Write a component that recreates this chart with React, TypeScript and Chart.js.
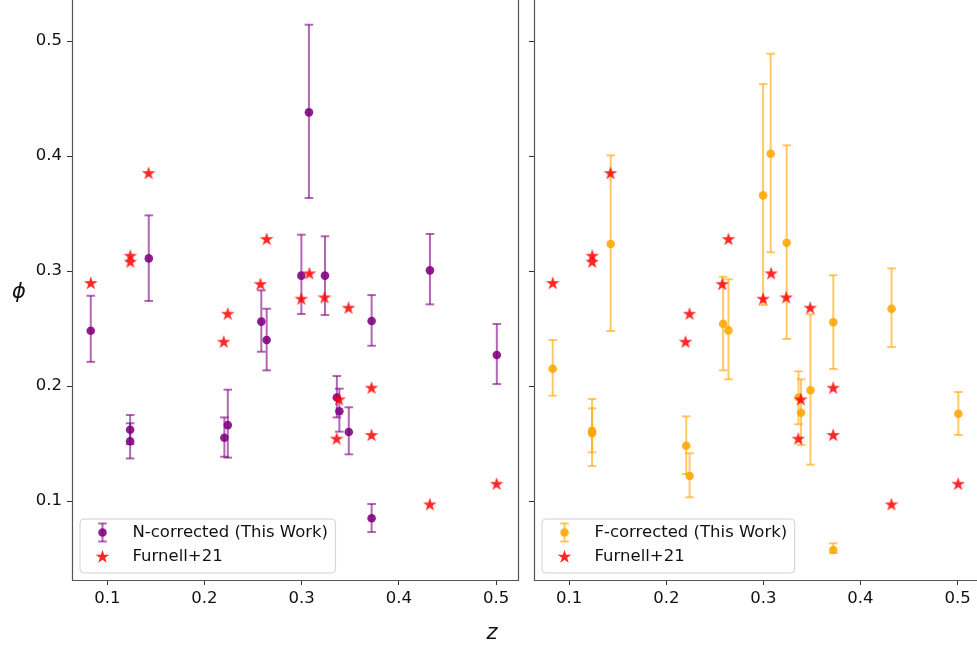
import React, { useEffect, useRef } from "react";
import { Chart, registerables } from "chart.js";

Chart.register(...registerables);

// ---------------- data ----------------
const Z = [0.083, 0.1235, 0.1235, 0.1427, 0.2205, 0.224, 0.2585, 0.264, 0.2997, 0.3075, 0.324, 0.3362, 0.3388, 0.3485, 0.372, 0.372, 0.432, 0.5008];

const N_PHI = [0.248, 0.162, 0.152, 0.311, 0.155, 0.166, 0.256, 0.24, 0.296, 0.438, 0.296, 0.19, 0.178, 0.16, 0.2565, 0.085, 0.3006, 0.227];
const N_LO = [0.221, 0.1495, 0.137, 0.274, 0.1385, 0.1377, 0.2298, 0.2136, 0.2626, 0.3635, 0.2617, 0.1727, 0.1603, 0.1406, 0.235, 0.073, 0.271, 0.2017];
const N_HI = [0.2785, 0.1748, 0.1676, 0.3484, 0.1727, 0.1968, 0.2832, 0.2672, 0.3316, 0.5142, 0.3302, 0.2087, 0.1977, 0.1815, 0.2791, 0.0974, 0.3322, 0.2539];

const F_PHI = [0.215, 0.161, 0.159, 0.3235, 0.148, 0.1217, 0.2542, 0.2484, 0.3658, 0.402, 0.3246, 0.19, 0.1768, 0.1963, 0.2554, 0.0574, 0.2672, 0.1759];
const F_LO = [0.1916, 0.1304, 0.1423, 0.2478, 0.1235, 0.1032, 0.2136, 0.2058, 0.2704, 0.3163, 0.2409, 0.1667, 0.1487, 0.1316, 0.2148, 0.0548, 0.2339, 0.1574];
const F_HI = [0.24, 0.1887, 0.1806, 0.4006, 0.1736, 0.1415, 0.295, 0.2928, 0.4626, 0.489, 0.4093, 0.2128, 0.2058, 0.2623, 0.2963, 0.0632, 0.3023, 0.1948];

const FURNELL_Z = [0.083, 0.1237, 0.1237, 0.1425, 0.2198, 0.2239, 0.2576, 0.264, 0.2997, 0.308, 0.3235, 0.336, 0.3385, 0.3482, 0.3719, 0.3719, 0.4319, 0.5006];
const FURNELL_PHI = [0.2896, 0.3133, 0.3081, 0.3852, 0.2385, 0.2629, 0.2887, 0.3278, 0.2759, 0.298, 0.2771, 0.1542, 0.1884, 0.2681, 0.1985, 0.1574, 0.0971, 0.115];

const X_TICKS = [0.1, 0.2, 0.3, 0.4, 0.5];
const Y_TICKS = [0.1, 0.2, 0.3, 0.4, 0.5];

const LABEL_N = "N-corrected (This Work)";
const LABEL_F = "F-corrected (This Work)";
const LABEL_FURNELL = "Furnell+21";

// ---------------- styling ----------------
const X_MIN = 0.0637;
const X_MAX = 0.5226;
const Y_MIN = 0.0313;
const Y_MAX = 0.5357;
const FONT = "'DejaVu Sans', 'Liberation Sans', sans-serif";
const FONT_SIZE = 16.5;
const STAR_COLOR = "rgba(255,0,0,0.85)";

function starPath(ctx: CanvasRenderingContext2D, cx: number, cy: number, r: number) {
  const ri = r * 0.381966;
  ctx.beginPath();
  for (let k = 0; k < 10; k++) {
    const rr = k % 2 === 0 ? r : ri;
    const a = -Math.PI / 2 + (k * Math.PI) / 5;
    const px = cx + rr * Math.cos(a);
    const py = cy + rr * Math.sin(a);
    if (k === 0) ctx.moveTo(px, py);
    else ctx.lineTo(px, py);
  }
  ctx.closePath();
}

function makeStar(): HTMLCanvasElement {
  const c = document.createElement("canvas");
  c.width = 16;
  c.height = 16;
  const ctx = c.getContext("2d")!;
  starPath(ctx, 8, 8.4, 7.2);
  ctx.fillStyle = STAR_COLOR;
  ctx.fill();
  return c;
}

const errorBarPlugin = {
  id: "errbars",
  beforeDatasetsDraw(chart: any) {
    const { ctx } = chart;
    const xs = chart.scales.x;
    const ys = chart.scales.y;
    chart.data.datasets.forEach((ds: any) => {
      if (!ds.errLo) return;
      ctx.save();
      ctx.strokeStyle = ds.errColor;
      ctx.lineWidth = 2;
      ds.data.forEach((p: any, i: number) => {
        const px = xs.getPixelForValue(p.x);
        const yl = ys.getPixelForValue(ds.errLo[i]);
        const yh = ys.getPixelForValue(ds.errHi[i]);
        ctx.beginPath();
        ctx.moveTo(px, yl);
        ctx.lineTo(px, yh);
        ctx.stroke();
        ctx.beginPath();
        ctx.moveTo(px - 4.3, yl);
        ctx.lineTo(px + 4.3, yl);
        ctx.stroke();
        ctx.beginPath();
        ctx.moveTo(px - 4.3, yh);
        ctx.lineTo(px + 4.3, yh);
        ctx.stroke();
      });
      ctx.restore();
    });
  },
};

const spinePlugin = {
  id: "spines",
  afterDraw(chart: any) {
    const { ctx, chartArea } = chart;
    const l = Math.round(chartArea.left) + 0.5;
    const r = Math.round(chartArea.right) + 0.5;
    const b = Math.round(chartArea.bottom) + 0.5;
    const t = chartArea.top - 40;
    ctx.save();
    ctx.strokeStyle = "#555";
    ctx.lineWidth = 1.2;
    ctx.beginPath();
    ctx.moveTo(l, t);
    ctx.lineTo(l, b);
    ctx.lineTo(r, b);
    ctx.lineTo(r, t);
    ctx.stroke();
    ctx.restore();
  },
};

const legendPlugin = {
  id: "mplLegend",
  afterDraw(chart: any) {
    const opts = chart.options.plugins.mplLegend;
    if (!opts) return;
    const { ctx, chartArea } = chart;
    ctx.save();
    ctx.font = `${FONT_SIZE}px ${FONT}`;
    const w1 = ctx.measureText(opts.label).width;
    const w2 = ctx.measureText(LABEL_FURNELL).width;
    const boxL = chartArea.left + 7.5;
    const boxB = chartArea.bottom - 7.5;
    const boxH = 54;
    const boxT = boxB - boxH;
    const textX = boxL + 53;
    const boxW = 53 + Math.max(w1, w2) + 7;
    // box
    ctx.beginPath();
    if ((ctx as any).roundRect) (ctx as any).roundRect(boxL + 0.5, boxT + 0.5, boxW, boxH, 4);
    else ctx.rect(boxL + 0.5, boxT + 0.5, boxW, boxH);
    ctx.fillStyle = "rgba(255,255,255,0.8)";
    ctx.fill();
    ctx.strokeStyle = "rgba(204,204,204,0.9)";
    ctx.lineWidth = 1;
    ctx.stroke();
    // entry 1: errorbar marker
    const mx = boxL + 23;
    const y1 = boxT + 14;
    const y2 = boxT + 38;
    ctx.strokeStyle = opts.errColor;
    ctx.lineWidth = 2;
    ctx.beginPath();
    ctx.moveTo(mx, y1 - 9);
    ctx.lineTo(mx, y1 + 9);
    ctx.stroke();
    ctx.beginPath();
    ctx.moveTo(mx - 4.3, y1 - 9);
    ctx.lineTo(mx + 4.3, y1 - 9);
    ctx.stroke();
    ctx.beginPath();
    ctx.moveTo(mx - 4.3, y1 + 9);
    ctx.lineTo(mx + 4.3, y1 + 9);
    ctx.stroke();
    ctx.beginPath();
    ctx.arc(mx, y1, 4.3, 0, Math.PI * 2);
    ctx.fillStyle = opts.color;
    ctx.fill();
    // entry 2: star
    starPath(ctx, mx, y2 + 0.4, 7.2);
    ctx.fillStyle = STAR_COLOR;
    ctx.fill();
    // texts
    ctx.fillStyle = "#111";
    ctx.textBaseline = "middle";
    ctx.textAlign = "left";
    ctx.fillText(opts.label, textX, y1);
    ctx.fillText(LABEL_FURNELL, textX, y2);
    ctx.restore();
  },
};

function buildConfig(isLeft: boolean, star: HTMLCanvasElement): any {
  const phi = isLeft ? N_PHI : F_PHI;
  const lo = isLeft ? N_LO : F_LO;
  const hi = isLeft ? N_HI : F_HI;
  const color = isLeft ? "rgba(128,0,128,0.88)" : "rgba(255,165,0,0.85)";
  const errColor = isLeft ? "rgba(128,0,128,0.6)" : "rgba(255,165,0,0.6)";
  const label = isLeft ? LABEL_N : LABEL_F;
  return {
    type: "scatter",
    data: {
      datasets: [
        {
          label: LABEL_FURNELL,
          data: FURNELL_Z.map((z, i) => ({ x: z, y: FURNELL_PHI[i] })),
          pointStyle: star,
          pointRadius: 7,
          pointHoverRadius: 7,
          backgroundColor: STAR_COLOR,
          borderWidth: 0,
        },
        {
          label,
          data: Z.map((z, i) => ({ x: z, y: phi[i] })),
          pointStyle: "circle",
          pointRadius: 4.3,
          pointHoverRadius: 4.3,
          backgroundColor: color,
          borderWidth: 0,
          errLo: lo,
          errHi: hi,
          errColor,
        },
      ],
    },
    options: {
      animation: false,
      responsive: false,
      events: [],
      layout: { padding: { top: 30, left: 0, right: isLeft ? 12 : 10.5, bottom: 0 } },
      plugins: {
        legend: { display: false },
        tooltip: { enabled: false },
        mplLegend: { label, color, errColor },
      },
      scales: {
        x: {
          type: "linear",
          min: X_MIN,
          max: X_MAX,
          afterBuildTicks: (s: any) => {
            s.ticks = X_TICKS.map((v) => ({ value: v }));
          },
          afterFit: (s: any) => {
            s.height = 68;
          },
          grid: { drawOnChartArea: false, drawTicks: true, tickLength: 5, color: "#333", lineWidth: 1 },
          border: { display: false },
          ticks: {
            padding: 3.5,
            color: "#111",
            font: { family: FONT, size: FONT_SIZE },
            maxRotation: 0,
            callback: (v: any) => Number(v).toFixed(1),
          },
        },
        y: {
          type: "linear",
          min: Y_MIN,
          max: Y_MAX,
          afterBuildTicks: (s: any) => {
            s.ticks = Y_TICKS.map((v) => ({ value: v }));
          },
          afterFit: (s: any) => {
            s.width = isLeft ? 72 : 14;
          },
          grid: { drawOnChartArea: false, drawTicks: true, tickLength: 5, color: "#333", lineWidth: 1 },
          border: { display: false },
          ticks: {
            display: isLeft,
            padding: 5,
            color: "#111",
            font: { family: FONT, size: FONT_SIZE },
            callback: (v: any) => Number(v).toFixed(1),
          },
        },
      },
    },
    plugins: [errorBarPlugin, spinePlugin, legendPlugin],
  };
}

export default function App() {
  const leftRef = useRef<HTMLCanvasElement>(null);
  const rightRef = useRef<HTMLCanvasElement>(null);

  useEffect(() => {
    const star = makeStar();
    const c1 = new Chart(leftRef.current!, buildConfig(true, star));
    const c2 = new Chart(rightRef.current!, buildConfig(false, star));
    return () => {
      c1.destroy();
      c2.destroy();
    };
  }, []);

  const labelStyle: React.CSSProperties = {
    position: "absolute",
    transform: "translate(-50%, -50%)",
    fontFamily: FONT,
    fontStyle: "italic",
    fontSize: 21,
    color: "#111",
    lineHeight: 1,
    whiteSpace: "nowrap",
  };

  return (
    <div
      style={{
        position: "fixed",
        left: 0,
        top: 0,
        width: 977,
        height: 648,
        overflow: "hidden",
        background: "#fff",
      }}
    >
      <canvas
        ref={leftRef}
        width={530}
        height={678}
        style={{ position: "absolute", left: 0, top: -30, width: 530, height: 678 }}
      />
      <canvas
        ref={rightRef}
        width={470}
        height={678}
        style={{ position: "absolute", left: 520, top: -30, width: 470, height: 678 }}
      />
      <span style={{ ...labelStyle, left: 19, top: 291 }}>ϕ</span>
      <span style={{ ...labelStyle, left: 492, top: 632 }}>z</span>
    </div>
  );
}
